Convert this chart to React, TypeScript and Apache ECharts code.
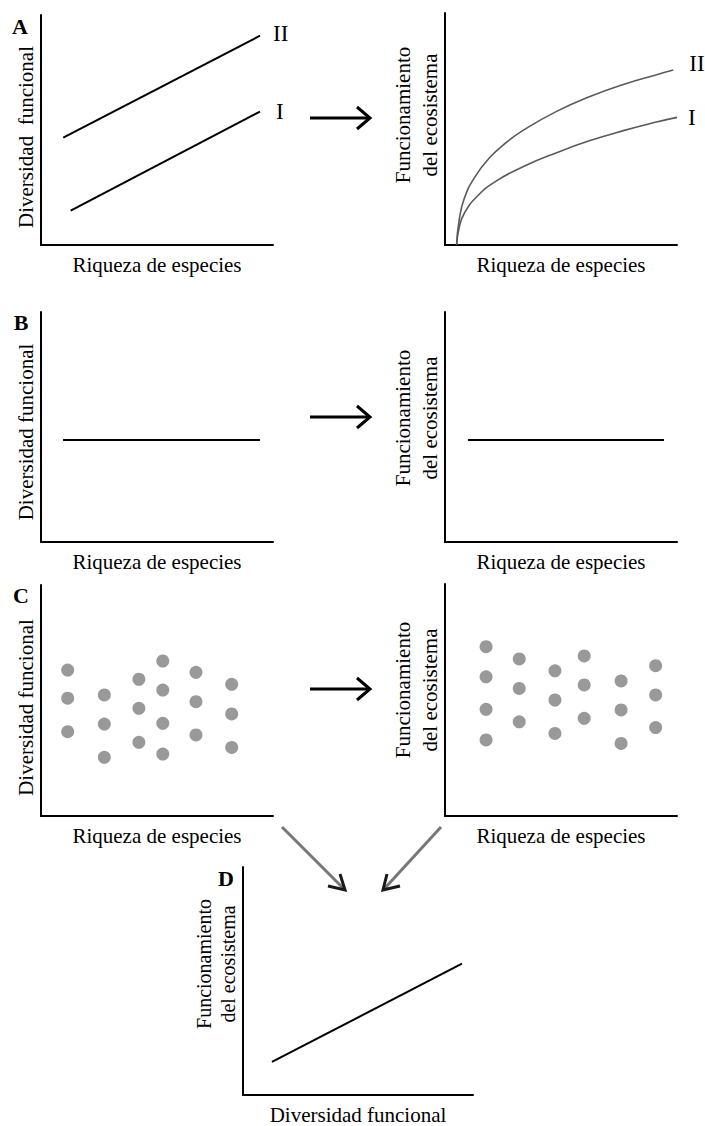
import React, { useEffect, useRef } from 'react';
import * as echarts from 'echarts';

const FONT = '"Liberation Serif", "Times New Roman", serif';

// Text
const xLabelRichness = 'Riqueza de especies';
const xLabelFD = 'Diversidad funcional';
const yLabelFD = 'Diversidad funcional';
const yLabelFDwide = 'Diversidad  funcional';
const yLabelEF = 'Funcionamiento\ndel ecosistema';
const panelLetters = ['A', 'B', 'C', 'D'];
const curveNames = ['I', 'II'];

// Panel A (left): functional diversity vs species richness
const aLeftI: number[][] = [[12.8, 14.9], [94.4, 58.0]];
const aLeftII: number[][] = [[9.6, 46.7], [94.4, 91.0]];

// Panel A (right): ecosystem functioning vs species richness
const aRightI: number[][] = [
  [5.0, 0], [6.2, 8], [8.5, 14], [13.7, 20.8], [22, 27.5], [33.8, 33.8], [48.1, 39.8],
  [62.5, 45.0], [76.9, 49.3], [91.2, 53.0], [100, 55.0],
];
const aRightII: number[][] = [
  [5.0, 0], [6.0, 10], [8.3, 20], [13.0, 29.5], [19.4, 37.8], [26.6, 44.3],
  [33.8, 49.5], [48.1, 57.6], [62.5, 64.0], [76.9, 69.2], [91.2, 73.4], [98.4, 75.4],
];

// Panel B: flat relationships
const bLeftFlat: number[][] = [[9.5, 44.3], [94.4, 44.3]];
const bRightFlat: number[][] = [[9.9, 44.3], [94.4, 44.3]];

// Panel C: scattered points
const cLeftDots: number[][] = [
  [11.5, 63.2], [11.5, 51.0], [11.5, 36.5],
  [27.3, 52.4], [27.3, 39.8], [27.3, 25.4],
  [42.2, 59.2], [42.2, 46.6], [42.2, 31.9],
  [52.5, 67.1], [52.5, 54.5], [52.5, 40.1], [52.5, 26.8],
  [66.8, 62.2], [66.8, 49.5], [66.8, 35.1],
  [82.2, 57.0], [82.2, 44.2], [82.2, 29.7],
];
const cRightDots: number[][] = [
  [17.7, 73.0], [17.7, 60.0], [17.7, 46.0], [17.7, 32.8],
  [32.0, 67.7], [32.0, 55.0], [32.0, 40.6],
  [47.4, 62.6], [47.4, 50.0], [47.4, 35.6],
  [60.0, 69.0], [60.0, 56.5], [60.0, 42.1],
  [75.9, 58.2], [75.9, 45.7], [75.9, 31.3],
  [90.8, 64.8], [90.8, 52.2], [90.8, 38.1],
];

// Panel D: ecosystem functioning vs functional diversity
const dLine: number[][] = [[12.6, 14.5], [95.2, 57.6]];

export default function App() {
  const ref = useRef<HTMLDivElement>(null);

  useEffect(() => {
    if (!ref.current) return;
    const chart = echarts.init(ref.current, undefined, { renderer: 'svg' });

    const grids = [
      { left: 41, top: 15, width: 232, height: 230 },   // A left
      { left: 445, top: 13, width: 232, height: 232 },  // A right
      { left: 41, top: 312, width: 232, height: 230 },  // B left
      { left: 445, top: 312, width: 232, height: 230 }, // B right
      { left: 41, top: 585, width: 232, height: 231 },  // C left
      { left: 445, top: 584, width: 232, height: 232 }, // C right
      { left: 243, top: 867, width: 230, height: 229 }, // D
    ];
    const xNames = [xLabelRichness, xLabelRichness, xLabelRichness, xLabelRichness, xLabelRichness, xLabelRichness, xLabelFD];
    const yNames = [yLabelFDwide, yLabelEF, yLabelFD, yLabelEF, yLabelFD, yLabelEF, yLabelEF];
    // vertical shift of each y-axis title on screen (+ = down)
    const yNameShift = [7, -14, 5, -9, 7, -10, -17];
    const yNameSize = [21, 21, 21, 21, 21, 21, 20];
    const yNameLineH = [21, 27, 21, 27, 21, 27, 24];
    const yNameGap = [5, 2, 5, 2, 5, 2, 3];

    const axisLine = { show: true, lineStyle: { color: '#000', width: 2 } };

    const xAxis = grids.map((_, i) => ({
      gridIndex: i, type: 'value', min: 0, max: 100,
      axisLine, axisTick: { show: false }, axisLabel: { show: false }, splitLine: { show: false },
      name: xNames[i], nameLocation: 'middle', nameGap: 9,
      nameTextStyle: { fontFamily: FONT, fontSize: 21, color: '#000', lineHeight: 21 },
    }));
    const yAxis = grids.map((_, i) => {
      const s = yNameShift[i];
      const padding = s >= 0 ? [0, 2 * s, 0, 0] : [0, 0, 0, -2 * s];
      return {
        gridIndex: i, type: 'value', min: 0, max: 100,
        axisLine, axisTick: { show: false }, axisLabel: { show: false }, splitLine: { show: false },
        name: yNames[i], nameLocation: 'middle', nameGap: yNameGap[i],
        nameTextStyle: {
          fontFamily: FONT, fontSize: yNameSize[i], color: '#000',
          lineHeight: yNameLineH[i], padding,
        },
      };
    });

    const lineSeries = (data: number[][], gi: number, extra: any = {}) => ({
      type: 'line', xAxisIndex: gi, yAxisIndex: gi, data, showSymbol: false,
      symbol: 'none', lineStyle: { color: '#000', width: 2 }, silent: true, clip: false,
      ...extra,
    });
    const endLabel = (text: string, distance: number, offset: number[]) => ({
      show: true, formatter: text, distance, offset,
      fontFamily: FONT, fontSize: 23, color: '#000',
    });

    const series: any[] = [
      lineSeries(aLeftI, 0, { endLabel: endLabel(curveNames[0], 16, [0, 0]) }),
      lineSeries(aLeftII, 0, { endLabel: endLabel(curveNames[1], 13, [0, -2]) }),
      lineSeries(aRightI, 1, {
        smooth: 0.5, lineStyle: { color: '#5a5a5a', width: 1.6 },
        endLabel: endLabel(curveNames[0], 11, [0, 0]),
      }),
      lineSeries(aRightII, 1, {
        smooth: 0.5, lineStyle: { color: '#5a5a5a', width: 1.6 },
        endLabel: endLabel(curveNames[1], 16, [0, -7]),
      }),
      lineSeries(bLeftFlat, 2),
      lineSeries(bRightFlat, 3),
      { type: 'scatter', xAxisIndex: 4, yAxisIndex: 4, data: cLeftDots, symbolSize: 13, itemStyle: { color: '#808080' }, silent: true },
      { type: 'scatter', xAxisIndex: 5, yAxisIndex: 5, data: cRightDots, symbolSize: 13, itemStyle: { color: '#808080' }, silent: true },
      lineSeries(dLine, 6),
    ];

    const hArrow = (y: number) => [
      { type: 'line', shape: { x1: 310, y1: y, x2: 369, y2: y }, style: { stroke: '#000', lineWidth: 3 } },
      { type: 'polyline', shape: { points: [[357, y - 11], [370, y], [357, y + 11]] }, style: { stroke: '#000', lineWidth: 3, fill: null } },
    ];
    const letter = (t: string, x: number, y: number) => ({
      type: 'text', x, y,
      style: { text: t, font: `bold 22px ${FONT}`, fill: '#000', align: 'center', verticalAlign: 'middle' },
    });

    const graphic: any[] = [
      ...hArrow(118), ...hArrow(417), ...hArrow(689),
      // diagonal arrows towards D
      { type: 'line', shape: { x1: 282, y1: 827, x2: 343, y2: 888 }, style: { stroke: '#777', lineWidth: 3 } },
      { type: 'polyline', shape: { points: [[328, 886], [345, 890], [340, 874]] }, style: { stroke: '#1a1a1a', lineWidth: 3, fill: null } },
      { type: 'line', shape: { x1: 441, y1: 827, x2: 385, y2: 888 }, style: { stroke: '#777', lineWidth: 3 } },
      { type: 'polyline', shape: { points: [[400, 886], [383, 890], [387, 874]] }, style: { stroke: '#1a1a1a', lineWidth: 3, fill: null } },
      letter(panelLetters[0], 20, 26),
      letter(panelLetters[1], 21, 322),
      letter(panelLetters[2], 21, 595),
      letter(panelLetters[3], 226, 878),
    ];

    chart.setOption({
      animation: false,
      backgroundColor: '#fff',
      grid: grids.map(g => ({ ...g, containLabel: false })),
      xAxis, yAxis, series, graphic,
    });
    return () => chart.dispose();
  }, []);

  return <div ref={ref} style={{ position: 'absolute', left: 0, top: 0, width: 705, height: 1126 }} />;
}
